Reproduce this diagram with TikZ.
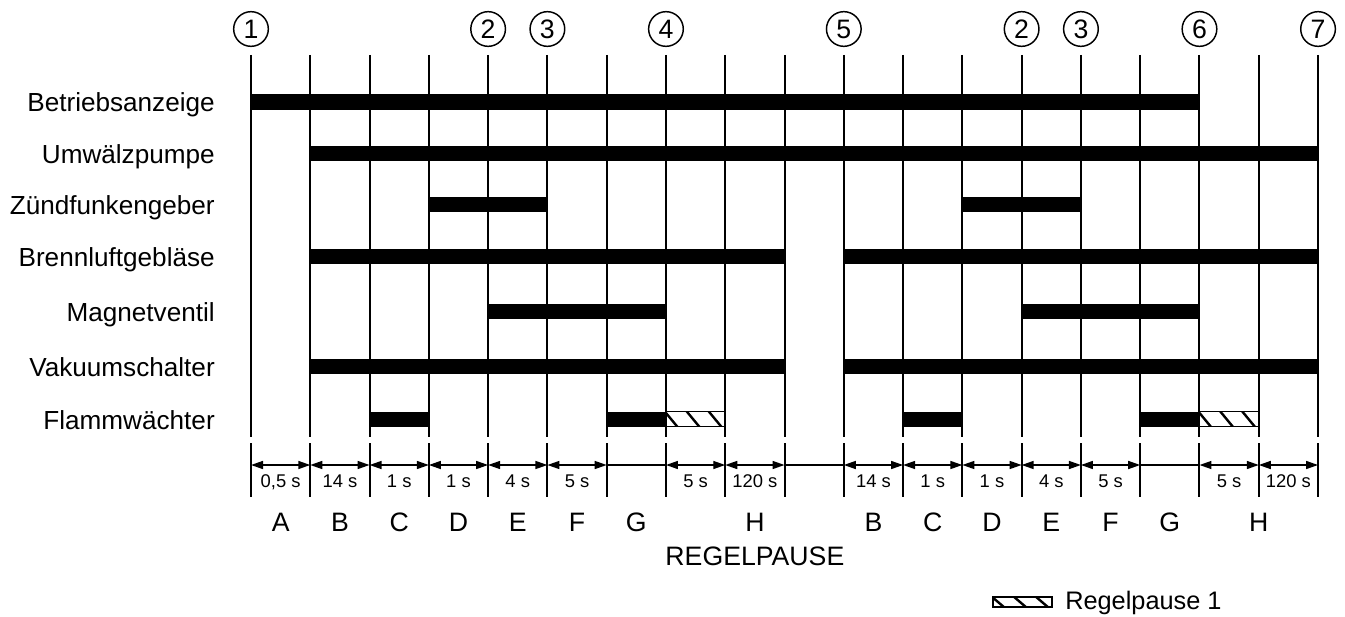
\documentclass[tikz,border=0pt]{standalone}
\usepackage{fontspec}
\setmainfont{Liberation Sans}
\usepackage{tikz}
\usetikzlibrary{arrows.meta, positioning, calc}
\definecolor{ink}{HTML}{000000}
% hatched box: from, to, y-centre, half height
\newcommand{\hatchbox}[4]{%
  \begin{scope}
    \clip ($#1+(0,{#3-#4})$) rectangle ($#2+(0,{#3+#4})$);
    \foreach \k in {0,1,2}
      \draw[draw=ink, line width=1.8pt] ($#1+({\k*22-2},{#3-#4-1})$) -- ++(14,{2*#4+2});
  \end{scope}
  \draw[draw=ink, line width=1.1pt] ($#1+(0,{#3-#4})$) rectangle ($#2+(0,{#3+#4})$);
}

\begin{document}
\begin{tikzpicture}[x=0.75pt, y=-0.75pt,
    gridline/.style={draw=ink, line width=1.5pt},
    dimline/.style={draw=ink, line width=1.1pt},
    dimarrow/.style={dimline, {Triangle[length=9pt,width=6pt]}-{Triangle[length=9pt,width=6pt]}},
    rowlabel/.style={anchor=base east, inner sep=0pt, font=\fontsize{19.6}{24}\selectfont},
    phase/.style={anchor=base, inner sep=0pt, font=\fontsize{20}{24}\selectfont},
    dimlabel/.style={anchor=base, inner sep=0pt, font=\fontsize{13.8}{16}\selectfont},
    numcircle/.style={draw=ink, circle, line width=1.1pt, minimum size=26pt,
                      inner sep=0pt, font=\fontsize{20}{20}\selectfont},
    barfill/.style={fill=ink}]
  \useasboundingbox (0,0) rectangle (1345,617);

  % time grid
  \foreach \i in {0,...,18} {
    \coordinate (t\i) at ({251+\i*59.28},0);
    \coordinate (d\i) at ($(t\i)+(0,465)$);
    \draw[gridline] ($(t\i)+(0,55)$) -- ($(t\i)+(0,437)$);
    \draw[gridline] ($(t\i)+(0,443)$) -- ($(t\i)+(0,497)$);
  }

  % circled step numbers
  \foreach \n/\i [count=\c] in {1/0, 2/4, 3/5, 4/7, 5/10, 2/13, 3/14, 6/16, 7/18}
    \node[numcircle] (num\c) at ($(t\i)+(0,29)$) {\n};

  % signal names
  \foreach \txt/\yy [count=\r] in {Betriebsanzeige/102, Umwälzpumpe/153,
      Zündfunkengeber/204, Brennluftgebläse/256, Magnetventil/311,
      Vakuumschalter/366, Flammwächter/419}
    \node[rowlabel] (row\r) at (215,{\yy+10}) {\txt};

  % on-times
  \foreach \yy/\a/\b in {102/0/16, 153/1/18, 204/3/5, 204/12/14,
      256/1/9, 256/10/18, 311/4/7, 311/13/16, 366/1/9, 366/10/18,
      419/2/3, 419/6/7, 419/11/12, 419/15/16}
    \fill[barfill] ($(t\a)+(0,{\yy-7.5})$) rectangle ($(t\b)+(0,{\yy+7.5})$);
  \hatchbox{(t7)}{(t8)}{419}{7.5}
  \hatchbox{(t16)}{(t17)}{419}{7.5}

  % durations
  \foreach \a/\b/\lbl in {0/1/{0,5 s}, 1/2/14 s, 2/3/1 s, 3/4/1 s, 4/5/4 s,
      5/6/5 s, 7/8/5 s, 8/9/120 s, 10/11/14 s, 11/12/1 s, 12/13/1 s,
      13/14/4 s, 14/15/5 s, 16/17/5 s, 17/18/120 s} {
    \draw[dimarrow] (d\a) -- (d\b);
    \node[dimlabel] (dl\a) at ($(t\a)!0.5!(t\b)+(0,487)$) {\lbl};
  }
  \foreach \a/\b in {6/7, 9/10, 15/16}
    \draw[dimline] (d\a) -- (d\b);

  % phases
  \foreach \lbl/\a/\b [count=\c] in {A/0/1, B/1/2, C/2/3, D/3/4, E/4/5, F/5/6,
      G/6/7, H/7/10, B/10/11, C/11/12, D/12/13, E/13/14, F/14/15, G/15/16, H/16/18}
    \node[phase] (ph\c) at ($(t\a)!0.5!(t\b)+(0,531)$) {\lbl};
  \node[phase] (pause) at ($(t7)!0.5!(t10)+(0,565)$) {REGELPAUSE};

  % legend
  \coordinate (legA) at (993,0);
  \coordinate (legB) at (1052,0);
  \hatchbox{(legA)}{(legB)}{602}{5}
  \node[anchor=base west, inner sep=0pt, font=\fontsize{19}{22}\selectfont]
    (legtext) at (1065,609) {Regelpause 1};
\end{tikzpicture}
\end{document}
